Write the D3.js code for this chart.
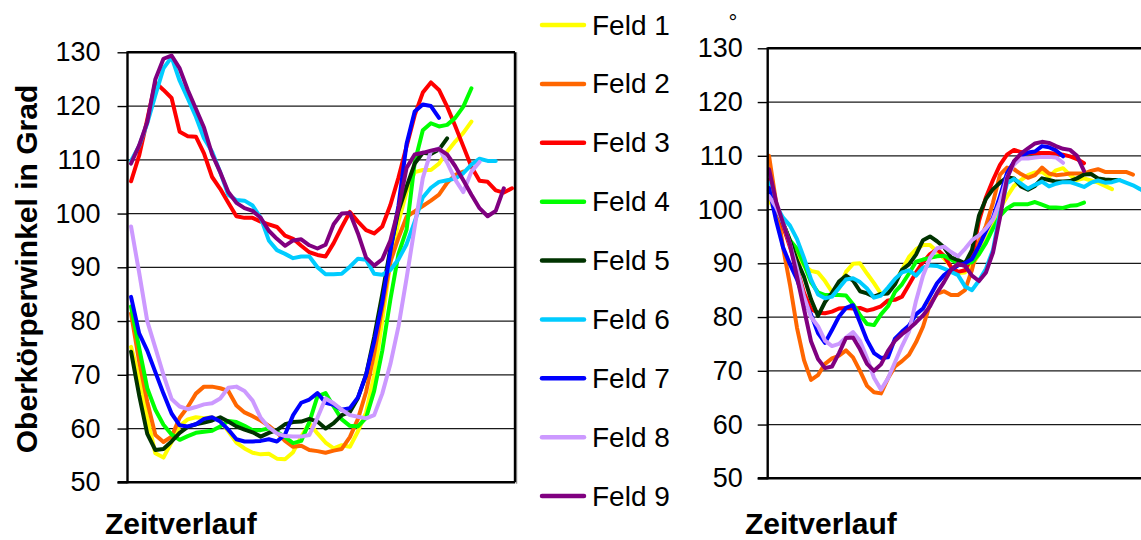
<!DOCTYPE html>
<html><head><meta charset="utf-8">
<script src="https://cdn.jsdelivr.net/npm/d3@7"></script>
<style>
html,body{margin:0;padding:0;background:#fff;overflow:hidden}
svg{display:block;font-family:Arial,"Liberation Sans",sans-serif}
</style></head><body>
<svg id="chart" width="1141" height="540"></svg>
<script>
// ---------- DATA ----------
const fields = ["Feld 1","Feld 2","Feld 3","Feld 4","Feld 5","Feld 6","Feld 7","Feld 8","Feld 9"];
const fieldColors = ["#FFFF00","#FF6600","#FF0000","#00FF00","#003300","#00CCFF","#0000FF","#CC99FF","#800080"];
const yTicks = [50,60,70,80,90,100,110,120,130];
const yTitle = "Oberkörperwinkel in Grad";
const xTitle = "Zeitverlauf";

// left panel (48 time steps)
const leftF1 = [75.2,69.5,62,55.4,54.6,57.5,60.5,61.7,62.1,61.9,62.1,61.5,59.5,57.4,56.3,55.5,55.2,55.3,54.4,54.3,55.6,58.5,61,59.1,57.4,56.3,56.9,56.6,59.5,63,70,80,91,98.5,104,107.7,108.1,108.1,109.3,111.5,113.4,115,117.1];
const leftF2 = [81.4,72.5,65,58.8,57.5,58.5,62,64,66.5,67.8,67.8,67.5,67,64.3,63,62.3,61.5,60.5,59.3,57.7,56.6,56.8,56,55.8,55.5,55.9,56.2,58.4,61.8,66.8,74,82.5,91,95.5,99.4,100.4,101.4,102.4,103.5,105.7,107.2,107.8];
const leftF3 = [106,110.8,117.5,124.4,123,121.5,115.2,114.4,114.3,111.2,106.8,104.6,102,99.5,99.2,99.2,98.5,98,97.5,95.9,95.3,94,92.8,92.3,92,94.5,97.5,100.3,98.5,96.9,96.3,97.6,101.6,106.7,112.5,118.3,122.5,124.4,123,119.9,116.3,112.5,108.7,106.1,105.9,104.3,103.9,104.7];
const leftF4 = [82.7,75,67.5,63.5,60.7,58.9,57.9,58.6,59.2,59.4,59.6,60.4,61.4,61.2,60.5,59.7,59.7,60,59.4,58.4,57.3,57.7,61.2,66,66.6,64.1,61.7,60.5,60.4,62,67,74.5,84,92.5,97,109.5,115.5,116.8,116.2,116.5,117.8,119.9,123.3];
const leftF5 = [74.3,66.2,59,56,56.2,57.6,59.2,60.3,60.8,61.1,61.5,62.1,61.3,60.4,59.8,59.3,58.5,59.2,59.7,60.8,61.2,61.3,61.8,61.3,60,61,62.5,63.1,65.7,70,77,85,93.5,100.5,105,109.3,111.3,111.1,111.9,114];
const leftF6 = [109.8,112.6,116.8,122,127,129.1,124.7,121.4,118,114,111.5,107.7,103.5,102.5,102.4,101.5,99.2,95,93.2,92.5,91.7,92,92,90,88.7,88.7,88.8,90.1,91.6,91.4,88.8,88.6,89.5,91.5,94.3,98.5,103,104.8,105.9,106.2,106.5,107.5,109.1,110.2,109.8,109.8];
const leftF7 = [84.5,77.7,74.5,70.5,66.5,62.8,60.6,60.4,60.8,61.8,62.1,61.3,59.8,58,57.6,57.6,57.7,58,57.6,58.9,62.5,64.8,65.4,66.6,64.8,64.4,63.5,63.8,65.8,70,76.2,83.5,93,101.5,113,119,120.3,120,117.8];
const leftF8 = [97.6,89,80,75,70,65.5,64.1,63.6,64,64.5,64.7,65.6,67.6,67.8,67,65.2,62,60.2,59.1,58.6,58.5,58.5,58.8,62,65.6,64.7,63.5,62.5,62.2,61.9,62.5,66.5,72,79,88,97.5,106.6,111.6,112.1,109.5,106.3,104,107.8,109.6];
const leftF9 = [109.3,112.7,117,125,128.8,129.4,127,123,119.5,116,111,107.7,104,102,101,100.5,99.2,96.8,95.3,94,95,95.2,94.1,93.5,94.2,98,100,100.1,96.3,91.8,90.3,91.5,95,100.9,108.5,111,111.3,111.7,112,111,108.8,106.2,103.5,101,99.5,100.5,104.7];

// right panel (finer time steps)
const rightF1 = [101.8,99.5,96.5,93.8,91.3,89.6,88.6,88.3,86.7,84.7,85.3,88.4,89.9,90,88.1,86.3,84.3,84.8,86.5,88.8,91.2,92.6,93.4,93.4,92.2,90.9,89.4,88.2,88.3,89.6,91.7,94.2,97,100.2,102.4,104.4,105.5,106.4,106.9,107,106.1,107.3,107.7,106.4,105.5,105.8,105.4,105,104.4,103.8];
const rightF2 = [110,101.5,93,86,78,72,68.3,69.2,71.3,72.3,72.8,73.8,72.5,70,67.2,66,65.8,68.6,70.8,71.8,73,75.3,78.2,82.4,84.3,84.8,84.1,84.1,85,88.8,94,97,101.3,106.5,107.8,107.5,106.6,105.9,106.4,107.8,106.7,106.4,106.5,106.7,106.7,106.7,107.2,107.5,107,107,107,107,106.5];
const rightF3 = [105.5,101,97,93,89,84.5,81.5,80.8,80.7,81,81.6,81.7,81.6,81.7,81.2,81.5,82,83.1,83.2,83.8,86,88.3,90.2,91.7,92.6,91.4,89.3,88.4,88.7,91.2,97.9,102.3,105.5,108.3,110.2,111.1,110.7,110.5,110.5,110.5,110.5,110.4,110.2,109.9,109.4,108.6];
const rightF4 = [103,100.5,97.5,94.3,92.7,89.8,86.5,84.6,84.1,84.1,84.1,84,82.4,80.4,78.7,78.5,80.5,82,84.7,86.1,88.1,90.3,90.7,91,91.3,91.4,90.7,90,90,90.2,91.7,93.8,96.5,98.8,100.2,101,101,101,101.4,100.9,100.4,100.4,100.3,100.7,100.8,101.3];
const rightF5 = [103.5,100.5,97.5,94.2,90.5,87.5,83.3,80.2,82.8,84.5,86.6,87.7,86.8,84.8,84.4,83.8,84.3,84.4,86.1,88.8,89.8,91.6,94.3,95,94.1,93,91.1,90.6,90,92.5,98.9,102,103.8,105,106,105.8,104.3,103.7,104.4,105.8,105.5,105.2,105.2,105.3,105.8,106.5,106.6,105.8,105.6,105.5,105.5];
const rightF6 = [105,100.8,98.5,97,94.5,91,87,84.2,83.5,83.8,85.4,87,87.2,86.5,85.3,83.6,84,85.5,87.1,88.3,88.7,87.7,89.2,89.6,89.5,89,88.4,87.8,85.7,85,86.8,89,92.5,99.5,104.9,105.7,104.8,103.9,104.6,105.2,104.3,104.8,105.1,105.1,104.7,104.2,105,105.4,105,105.1,105.5,105,104.5,103.8,103];
const rightF7 = [104,98,93,89.8,87,83.2,80.5,77,75.2,77.6,80.1,81.7,82.2,79,75.7,73.3,72.4,72.5,76,77.3,78.4,80.5,81.6,83.9,86.3,87.8,88.8,89.6,90,90.8,93.2,96,98.5,102.5,106.8,108.9,110,110.6,110.8,111.8,111.6,111,109.9];
const rightF8 = [102.5,100.5,97.5,93.5,89,83.8,80,78.3,75.6,74.6,75,76.2,77.2,75.6,72.4,68.7,66.5,68.6,71.6,74.6,77.3,83,87.7,91,92.8,93.1,92.1,91.3,92.7,94.3,95.2,96.5,98.2,101.5,106,108.4,109.5,109.5,109.7,109.8,109.8,109.7,108.7];
const rightF9 = [107.5,101.5,97.5,93.5,87.5,81.5,75.5,72.2,70.5,70.8,73.3,76.1,76.2,74,71.3,70,71.2,73.7,75.6,76.8,77.8,79,80.3,82,84.5,86.5,88.8,89.9,89.5,87.7,86.7,88.3,92,98.5,105.8,109,110.4,111.4,112.3,112.6,112.4,111.8,111.3,111.1,110,107.2];

const leftSeries = [leftF1,leftF2,leftF3,leftF4,leftF5,leftF6,leftF7,leftF8,leftF9];
const rightSeries = [rightF1,rightF2,rightF3,rightF4,rightF5,rightF6,rightF7,rightF8,rightF9];

// ---------- DRAW ----------
const svg = d3.select("#chart");

function drawPanel(p) {
  const x = d3.scaleLinear().domain(p.xDomain).range([p.x0Data, p.x1Data]);
  const y = d3.scaleLinear().domain([50,130]).range([p.yBot, p.yTop]);
  const g = svg.append("g");

  g.selectAll("line.grid").data(yTicks.filter(v => v > 50 && v < 130)).enter()
    .append("line").attr("class","grid")
    .attr("x1", p.left).attr("x2", p.right)
    .attr("y1", d => y(d)).attr("y2", d => y(d))
    .attr("stroke", "#1a1a1a").attr("stroke-width", 1.3);

  const ax = g.append("g").attr("transform", `translate(${p.left},0)`)
    .call(d3.axisLeft(y).tickValues(yTicks).tickSize(10).tickPadding(p.pad));
  ax.select(".domain").remove();
  ax.selectAll(".tick line").attr("stroke", "#000").attr("stroke-width", 1.4);
  ax.selectAll(".tick text").attr("fill", "#000")
    .style("font-size", "27px").style("font-family", "Arial, 'Liberation Sans', sans-serif");

  g.append("line").attr("x1", p.left).attr("x2", p.right).attr("y1", y(130)).attr("y2", y(130))
    .attr("stroke", "#000").attr("stroke-width", 2.4);
  g.append("line").attr("x1", p.left - 10).attr("x2", p.right).attr("y1", y(50)).attr("y2", y(50))
    .attr("stroke", "#000").attr("stroke-width", 2.6);
  if (p.rightBorder) {
    g.append("line").attr("x1", p.right + 1.5).attr("x2", p.right + 1.5).attr("y1", y(130)).attr("y2", y(50) + 1.5)
      .attr("stroke", "#999").attr("stroke-width", 1.5);
    g.append("line").attr("x1", p.right).attr("x2", p.right).attr("y1", y(130)).attr("y2", y(50))
      .attr("stroke", "#000").attr("stroke-width", 2.4);
  }

  const line = d3.line().x((d, i) => x(i)).y(d => y(d));
  g.selectAll("path.series").data(p.series).enter().append("path")
    .attr("class", "series")
    .attr("d", d => line(d))
    .attr("fill", "none")
    .attr("stroke", (d, i) => fieldColors[i])
    .attr("stroke-width", 4)
    .attr("stroke-linejoin", "round")
    .attr("stroke-linecap", "round");

  g.append("line").attr("x1", p.left).attr("x2", p.left).attr("y1", y(130) - 1).attr("y2", y(50) + 1)
    .attr("stroke", "#000").attr("stroke-width", 2.4);

  g.append("text").attr("x", p.xTitleX).attr("y", p.xTitleY)
    .attr("font-size", 30).attr("font-weight", "bold").attr("fill", "#000").text(xTitle);
}

drawPanel({left: 127.5, right: 515, yTop: 52.3, yBot: 482.3,
  xDomain: [-0.5, 47.5], x0Data: 127, x1Data: 516, series: leftSeries,
  pad: 17, rightBorder: true, xTitleX: 105, xTitleY: 534});

drawPanel({left: 767.7, right: 1160, yTop: 48.3, yBot: 478.3,
  xDomain: [0, 55], x0Data: 769, x1Data: 1154, series: rightSeries,
  pad: 15, rightBorder: false, xTitleX: 745, xTitleY: 534});

svg.append("text")
  .attr("transform", "translate(37,269) rotate(-90)")
  .attr("text-anchor", "middle")
  .attr("font-size", 30).attr("font-weight", "bold").attr("fill", "#000")
  .text(yTitle);

svg.append("text").attr("x", 733).attr("y", 30).attr("text-anchor", "middle")
  .attr("font-size", 22).attr("fill", "#000").text("°");

const leg = svg.append("g");
const legY = d3.scaleLinear().domain([0, 8]).range([25, 496]);
fields.forEach((f, i) => {
  leg.append("line").attr("x1", 542).attr("x2", 584).attr("y1", legY(i)).attr("y2", legY(i))
    .attr("stroke", fieldColors[i]).attr("stroke-width", 4.5).attr("stroke-linecap", "round");
  leg.append("text").attr("x", 592).attr("y", legY(i) + 9.5)
    .attr("font-size", 28).attr("fill", "#000").text(f);
});
</script>
</body></html>
